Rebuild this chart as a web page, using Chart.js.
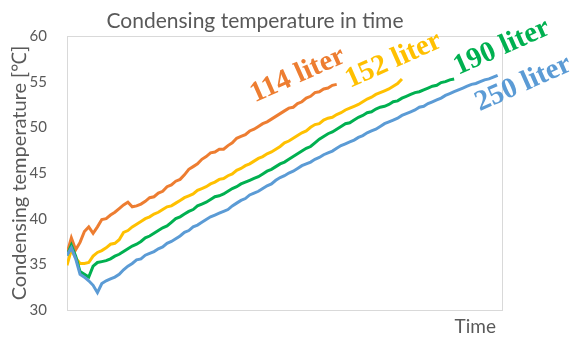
<!DOCTYPE html>
<html>
<head>
<meta charset="utf-8">
<script src="https://cdn.jsdelivr.net/npm/chart.js@4"></script>
<style>
  html, body { margin: 0; padding: 0; background: #fff; }
  #wrap { width: 572px; height: 339px; }
</style>
</head>
<body>
<div id="wrap"><canvas id="condChart" width="572" height="339"></canvas></div>
<script>
// time steps (arbitrary units)
const time = [
  0, 1, 2, 3, 4, 5, 6, 7, 8, 9, 10, 11, 12, 13, 14, 15, 16, 17, 18, 19,
  20, 21, 22, 23, 24, 25, 26, 27, 28, 29, 30, 31, 32, 33, 34, 35, 36, 37, 38, 39,
  40, 41, 42, 43, 44, 45, 46, 47, 48, 49, 50, 51, 52, 53, 54, 55, 56, 57, 58, 59,
  60, 61, 62, 63, 64, 65, 66, 67, 68, 69, 70, 71, 72, 73, 74, 75, 76, 77, 78, 79,
  80, 81, 82, 83, 84, 85, 86, 87, 88, 89, 90, 91, 92, 93, 94, 95, 96, 97, 98, 99
];

// condensing temperature [°C] per tank size
const t114 = [
  36.2, 37.9, 36.6, 37.4, 38.6, 39.1, 38.4, 39.1, 39.9, 40.0,
  40.4, 40.7, 41.1, 41.5, 41.8, 41.3, 41.4, 41.6, 41.9, 42.3,
  42.4, 42.8, 43.0, 43.5, 43.7, 44.1, 44.3, 44.8, 45.4, 45.7,
  46.0, 46.5, 46.8, 47.2, 47.3, 47.6, 47.6, 48.0, 48.3, 48.8,
  49.0, 49.2, 49.6, 49.8, 50.1, 50.4, 50.6, 50.9, 51.2, 51.5,
  51.8, 52.1, 52.2, 52.6, 52.8, 53.2, 53.4, 53.8, 53.9, 54.2,
  54.3, 54.6, 54.7
];
const t152 = [
  34.9, 36.6, 35.7, 35.1, 35.1, 35.2, 35.9, 36.3, 36.5, 36.8,
  37.2, 37.3, 37.7, 38.5, 38.7, 39.1, 39.4, 39.7, 40.0, 40.2,
  40.5, 40.7, 41.0, 41.3, 41.4, 41.7, 42.0, 42.3, 42.5, 42.7,
  43.1, 43.3, 43.5, 43.8, 44.0, 44.3, 44.4, 44.7, 44.9, 45.3,
  45.5, 45.8, 46.0, 46.3, 46.6, 46.8, 47.1, 47.3, 47.6, 47.9,
  48.3, 48.5, 48.8, 49.1, 49.4, 49.6, 50.0, 50.3, 50.4, 50.8,
  51.0, 51.1, 51.4, 51.6, 51.9, 52.1, 52.3, 52.5, 52.8, 53.1,
  53.3, 53.6, 53.8, 54.0, 54.2, 54.5, 54.8, 55.3
];
const t190 = [
  36.0, 37.1, 35.9, 34.2, 33.9, 33.6, 34.8, 35.2, 35.3, 35.4,
  35.6, 35.9, 36.1, 36.4, 36.7, 37.0, 37.2, 37.5, 37.9, 38.1,
  38.4, 38.7, 39.0, 39.2, 39.6, 40.0, 40.2, 40.5, 40.8, 41.0,
  41.4, 41.6, 41.8, 42.1, 42.4, 42.5, 42.7, 43.0, 43.3, 43.5,
  43.8, 44.0, 44.2, 44.4, 44.6, 44.9, 45.2, 45.4, 45.7, 46.0,
  46.2, 46.5, 46.8, 47.1, 47.4, 47.7, 47.9, 48.3, 48.7, 49.0,
  49.3, 49.5, 49.8, 50.1, 50.4, 50.5, 50.8, 51.1, 51.3, 51.6,
  51.7, 52.0, 52.2, 52.3, 52.5, 52.8, 52.9, 53.2, 53.4, 53.6,
  53.8, 53.9, 54.1, 54.3, 54.5, 54.6, 54.9, 55.0, 55.2, 55.3
];
const t250 = [
  36.0, 36.8, 35.6, 33.9, 33.6, 33.2, 32.7, 31.9, 32.9, 33.2,
  33.4, 33.6, 33.9, 34.4, 34.8, 35.1, 35.5, 35.6, 36.0, 36.2,
  36.4, 36.7, 36.9, 37.3, 37.5, 37.8, 38.1, 38.5, 38.7, 39.1,
  39.3, 39.6, 39.9, 40.2, 40.4, 40.6, 40.8, 41.0, 41.4, 41.7,
  42.0, 42.2, 42.6, 42.8, 43.0, 43.3, 43.6, 43.8, 44.2, 44.5,
  44.7, 45.0, 45.2, 45.5, 45.8, 46.0, 46.2, 46.5, 46.7, 47.0,
  47.2, 47.4, 47.7, 48.0, 48.2, 48.4, 48.6, 48.9, 49.1, 49.4,
  49.6, 49.8, 50.1, 50.4, 50.6, 50.8, 51.0, 51.3, 51.5, 51.7,
  51.9, 52.2, 52.3, 52.6, 52.8, 53.0, 53.2, 53.5, 53.7, 53.9,
  54.1, 54.3, 54.5, 54.7, 54.8, 55.0, 55.2, 55.3, 55.5, 55.7
];

const seriesNames = ["114 liter", "152 liter", "190 liter", "250 liter"];
const seriesColors = ["#ED7D31", "#FFC000", "#00B050", "#5B9BD5"];
const yTicks = [30, 35, 40, 45, 50, 55, 60];

const grey = "#595959";
const font = "Lato, 'Open Sans', sans-serif";

// baseline start of each tank label, relative to the end of its line
const labelOffsets = [[-82, 18], [-52, 9], [4, -4], [-18, 36]];
const labelAngle = 24;

function toPoints(vals) {
  return vals.map((v, i) => ({ x: time[i], y: v }));
}

const frameAndText = {
  id: "frameAndText",
  beforeDatasetsDraw(chart) {
    const { ctx, chartArea: a } = chart;
    ctx.save();
    ctx.strokeStyle = "#d9d9d9";
    ctx.lineWidth = 1;
    ctx.strokeRect(a.left + 0.5, a.top + 0.5, a.right - a.left, a.bottom - a.top);
    ctx.restore();
  },
  afterDraw(chart) {
    const { ctx, chartArea: a } = chart;
    ctx.save();
    ctx.fillStyle = grey;
    ctx.textAlign = "center";
    ctx.textBaseline = "alphabetic";
    ctx.font = "21px " + font;
    ctx.fillText("Condensing temperature in time", 255, 28);

    ctx.font = "19px " + font;
    ctx.textAlign = "right";
    ctx.fillText("Time", 496, 333);

    ctx.save();
    ctx.font = "20px " + font;
    ctx.translate(26, (a.top + a.bottom) / 2);
    ctx.rotate(-Math.PI / 2);
    ctx.textAlign = "center";
    ctx.fillText("Condensing temperature [\u2103]", 0, 0);
    ctx.restore();

    // tank labels, tilted along the curves
    ctx.font = "bold 29px 'Liberation Serif', 'Times New Roman', serif";
    ctx.textAlign = "left";
    ctx.textBaseline = "alphabetic";
    chart.data.datasets.forEach((ds, i) => {
      const meta = chart.getDatasetMeta(i);
      const last = meta.data[meta.data.length - 1];
      ctx.save();
      ctx.translate(last.x + labelOffsets[i][0], last.y + labelOffsets[i][1]);
      ctx.rotate(-labelAngle * Math.PI / 180);
      ctx.fillStyle = ds.borderColor;
      ctx.fillText(ds.label, 0, 0);
      ctx.restore();
    });
    ctx.restore();
  }
};

const allSeries = [t114, t152, t190, t250];

new Chart(document.getElementById("condChart"), {
  type: "line",
  data: {
    datasets: allSeries.map((vals, i) => ({
      label: seriesNames[i],
      data: toPoints(vals),
      borderColor: seriesColors[i],
      borderWidth: 3,
      pointRadius: 0,
      tension: 0,
      fill: false,
      order: 3 - i
    }))
  },
  options: {
    responsive: false,
    animation: false,
    layout: { padding: { left: 0, right: 70, top: 36, bottom: 29 } },
    plugins: { legend: { display: false }, tooltip: { enabled: false }, title: { display: false } },
    scales: {
      x: {
        type: "linear",
        min: 0,
        max: 100,
        grid: { display: false },
        border: { display: false },
        ticks: { display: false },
        afterFit: s => { s.height = 0; }
      },
      y: {
        min: 30,
        max: 60,
        afterBuildTicks: s => { s.ticks = yTicks.map(v => ({ value: v })); },
        grid: { display: false },
        border: { display: false },
        ticks: { color: grey, font: { family: font, size: 15 }, padding: 12 },
        afterFit: s => { s.width = 67; }
      }
    }
  },
  plugins: [frameAndText]
});
</script>
</body>
</html>
